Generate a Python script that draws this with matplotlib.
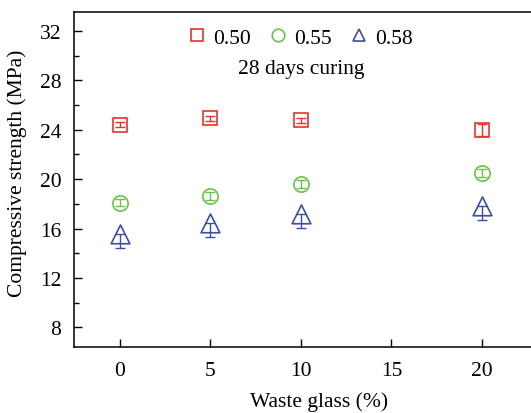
import matplotlib
matplotlib.use("Agg")
import matplotlib.pyplot as plt
from matplotlib.path import Path

plt.rcParams['font.family'] = ['Liberation Serif', 'DejaVu Serif']
plt.rcParams['mathtext.fontset'] = 'stix'

waste_glass = [0, 5, 10, 20]
labels = ['0.50', '0.55', '0.58']
strength_050 = [24.4, 24.94, 24.78, 24.0]
err_050 = [0.2, 0.2, 0.2, 0.5]
strength_055 = [18.1, 18.65, 19.6, 20.5]
err_055 = [0.3, 0.35, 0.3, 0.3]
strength_058 = [14.97, 15.9, 16.6, 17.28]
err_058 = [0.57, 0.57, 0.57, 0.57]

colors = ['#e8322b', '#6cc24a', '#3b4ea2']

# triangle drawn a little above its data point, as in the source figure
shift = 0.76
tri = Path([(0, 1 + shift), (-1, -1 + shift), (1, -1 + shift), (0, 1 + shift)],
           [Path.MOVETO, Path.LINETO, Path.LINETO, Path.CLOSEPOLY])
markers = ['s', 'o', tri]
sizes = [10, 11, 13.5 * (1 + shift)]

fig = plt.figure(figsize=(5.31, 4.14), dpi=100)
ax = fig.add_axes([0.139, 0.159, 0.922, 0.81])

series = [(strength_050, err_050), (strength_055, err_055), (strength_058, err_058)]
for (vals, errs), lab, c, m, s in zip(series, labels, colors, markers, sizes):
    ax.errorbar(waste_glass, vals, yerr=errs, fmt='none', ecolor=c,
                elinewidth=1.0, capsize=3.5, capthick=1.0)
    ax.plot(waste_glass, vals, ls='none', marker=m, ms=s, mfc='none', mec=c,
            mew=1.2)

ax.set_xlim(-2.55, 24.5)
ax.set_ylim(6.4, 33.55)
ax.set_xticks([0, 5, 10, 15, 20])
ax.set_yticks([8, 12, 16, 20, 24, 28, 32])
ax.set_yticks(range(10, 33, 4), minor=True)
ax.tick_params(direction='in', labelsize=15.5, length=6, width=1, pad=10)
ax.tick_params(axis='y', pad=9)
ax.tick_params(which='minor', direction='in', length=3.5, width=1)
ax.tick_params(top=False, right=False)
ax.spines['right'].set_visible(False)
for sp in ['left', 'bottom', 'top']:
    ax.spines[sp].set_linewidth(1.1)

ax.set_xlabel('Waste glass (%)', fontsize=15.5, labelpad=8)
ax.set_ylabel('Compressive strength (MPa)', fontsize=15.5)
ax.yaxis.set_label_coords(-0.095, 0.52)

handles = [plt.Line2D([], [], ls='none', marker=m, ms=9, mfc='none', mec=c, mew=1.2)
           for m, c in zip(['s', 'o', '^'], colors)]
ax.legend(handles, labels, loc='upper center', bbox_to_anchor=(0.462, 1.01),
          ncol=3, frameon=False, fontsize=15.5, handletextpad=0.3,
          columnspacing=0.8, handlelength=0.9)
ax.text(0.465, 0.83, '28 days curing', transform=ax.transAxes, ha='center',
        va='center', fontsize=15.5)

fig.savefig('out.png', dpi=100)
